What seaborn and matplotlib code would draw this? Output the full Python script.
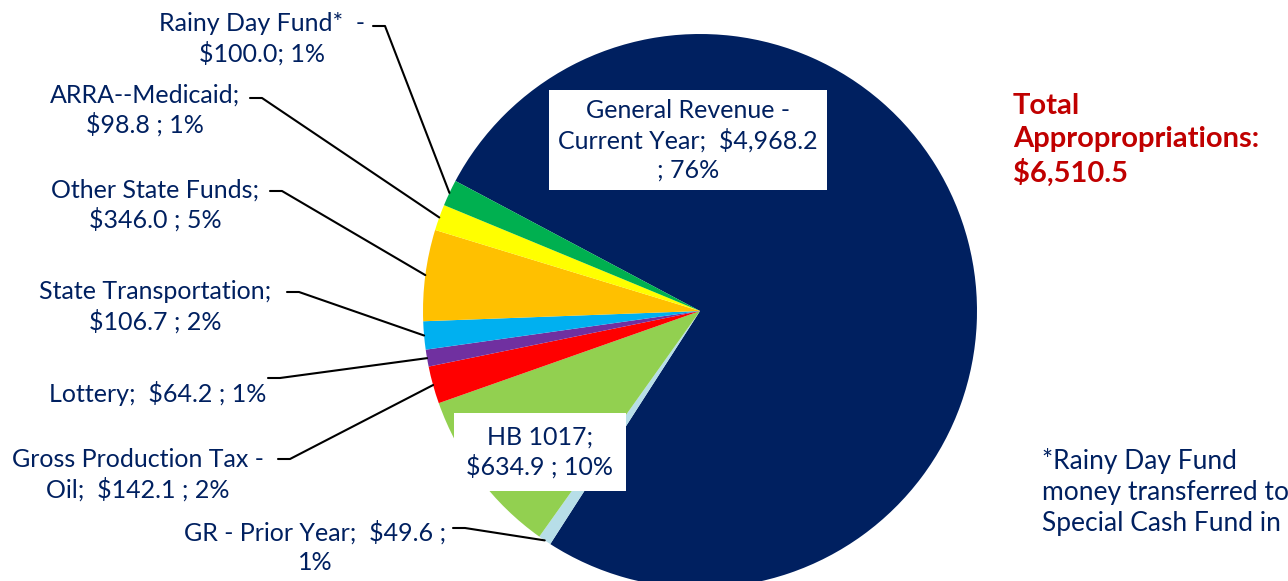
import numpy as np
import matplotlib.pyplot as plt
import seaborn as sns

# data (millions of dollars)
categories = ["General Revenue - Current Year", "GR - Prior Year", "HB 1017",
              "Gross Production Tax - Oil", "Lottery", "State Transportation",
              "Other State Funds", "ARRA--Medicaid", "Rainy Day Fund*"]
amounts = [4968.2, 49.6, 634.9, 142.1, 64.2, 106.7, 346.0, 98.8, 100.0]
percents = [76, 1, 10, 2, 1, 2, 5, 1, 1]
label_texts = [
    "General Revenue -\nCurrent Year;  $4,968.2\n; 76%",
    "GR - Prior Year;  $49.6 ;\n1%",
    "HB 1017;\n$634.9 ; 10%",
    "Gross Production Tax -\nOil;  $142.1 ; 2%",
    "Lottery;  $64.2 ; 1%",
    "State Transportation;\n$106.7 ; 2%",
    "Other State Funds;\n$346.0 ; 5%",
    "ARRA--Medicaid;\n$98.8 ; 1%",
    "Rainy Day Fund*  -\n$100.0; 1%",
]
total_text = "Total\nAppropropriations:\n$6,510.5"
note_text = "*Rainy Day Fund\nmoney transferred to\nSpecial Cash Fund in"

colors = ["#002060", "#B7DEE8", "#92D050", "#FF0000", "#7030A0",
          "#00B0F0", "#FFC000", "#FFFF00", "#00B050"]
text_color = "#002060"

sns.set_style("white")
plt.rcParams["font.family"] = ["Lato", "DejaVu Sans"]

W, H = 1288, 581
fig = plt.figure(figsize=(W / 100, H / 100), dpi=100)
ax = fig.add_axes([0, 0, 1, 1])

cx, cy, r = 700, H - 311, 277
wedges, _ = ax.pie(amounts, colors=sns.color_palette(colors), startangle=152,
                   counterclock=False, center=(cx, cy), radius=r,
                   wedgeprops=dict(linewidth=0))
ax.set_xlim(0, W)
ax.set_ylim(0, H)
ax.set_aspect("equal")
ax.axis("off")

def py(y):
    # pixel row (from top) -> data y
    return H - y

# label text centers (px from top) and leader start (px), None = inside label
label_pos = [(688, 140), (315, 547), (540, 452), (138, 475), (158, 393),
             (155, 307), (155, 205), (145, 110), (262, 39)]
leader_start = [None, (453, 528), None, (278, 459), (268, 378),
                (287, 292), (270, 191), (250, 98), (373, 26)]

fs = 18
for i, w in enumerate(wedges):
    x, y = label_pos[i]
    if leader_start[i] is None:
        pad = 0.35 if i == 0 else 0.5
        ax.text(x, py(y), label_texts[i], ha="center", va="center",
                fontsize=fs, color=text_color, linespacing=1.3,
                bbox=dict(boxstyle=f"square,pad={pad}", fc="white", ec="none"))
        continue
    ax.text(x, py(y), label_texts[i], ha="center", va="center",
            fontsize=fs, color=text_color, linespacing=1.3)
    mid = np.deg2rad((w.theta1 + w.theta2) / 2)
    ex, ey = cx + r * np.cos(mid), cy + r * np.sin(mid)
    sx, sy = leader_start[i]
    ax.plot([sx, sx + 12, ex], [py(sy), py(sy), ey], color="black", lw=1.5)

ax.text(1013, py(140), total_text, ha="left", va="center", fontsize=21,
        fontweight="bold", color="#C00000", linespacing=1.32)
ax.text(1042, py(492), note_text, ha="left", va="center", fontsize=19,
        color=text_color, linespacing=1.3)

fig.savefig("out.png", dpi=100)
